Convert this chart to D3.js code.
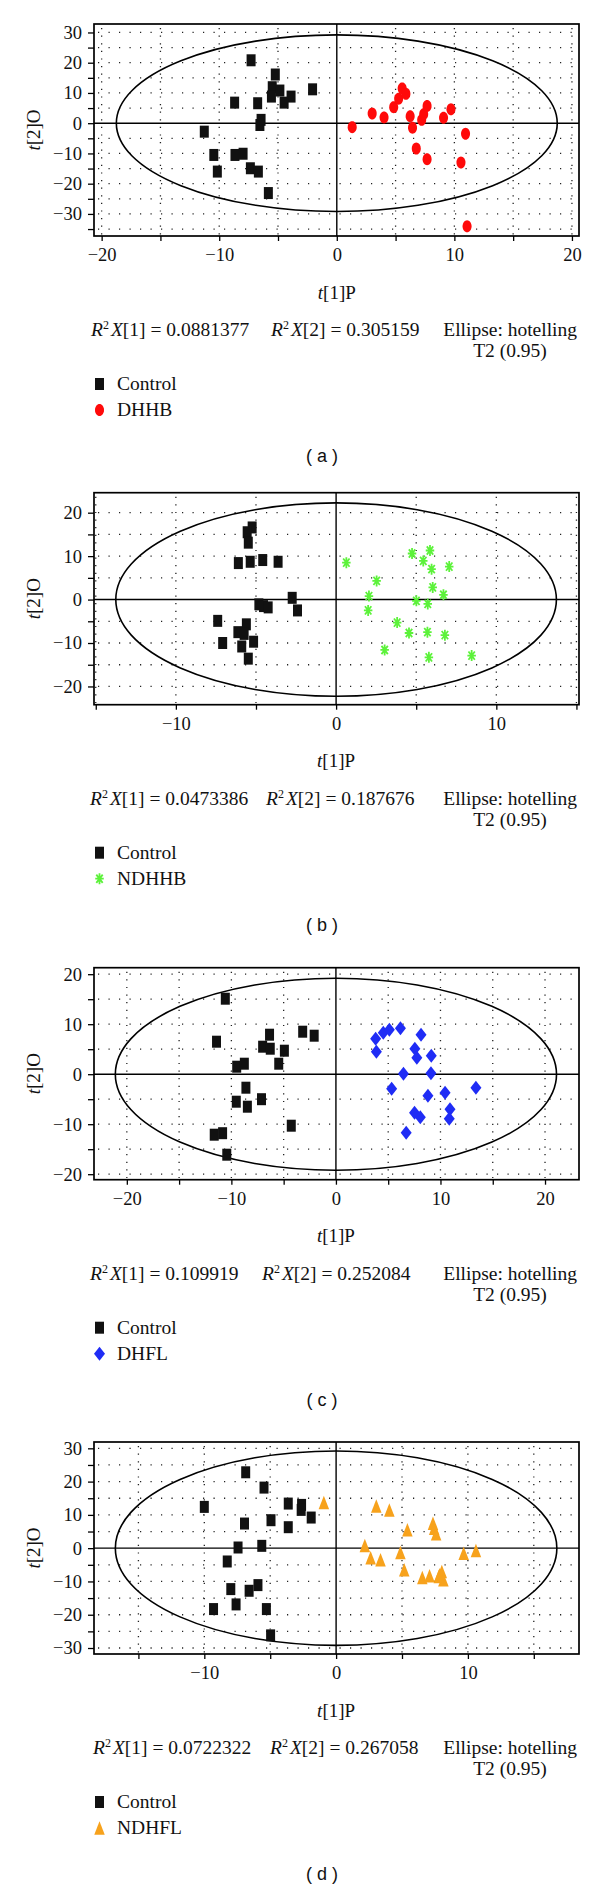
<!DOCTYPE html>
<html><head><meta charset="utf-8">
<script src="https://cdn.jsdelivr.net/npm/d3@7"></script>
<style>body{margin:0;background:#fff} svg{display:block}</style>
</head><body>
<script>
// ---------- DATA ----------
const controlA = [[-7.29,20.8],[-5.23,16.1],[-2.06,11.2],[-5.49,11.9],[-4.84,10.8],[-5.56,8.8],[-3.89,8.8],[-4.48,6.8],[-8.69,6.8],[-6.73,6.6],[-6.44,1.1],[-6.54,-0.6],[-11.27,-2.8],[-10.46,-10.5],[-8.66,-10.5],[-7.97,-10.1],[-10.16,-16.0],[-7.35,-14.9],[-6.67,-16.0],[-5.82,-23.1]];
const dhhb = [[1.31,-1.3],[3.01,3.2],[4.02,1.9],[4.84,5.3],[5.26,8.1],[5.56,11.5],[5.88,9.7],[6.24,2.3],[6.44,-1.5],[7.22,1.1],[7.39,3.0],[7.68,5.7],[6.76,-8.4],[7.68,-11.9],[9.08,1.8],[9.71,4.6],[10.95,-3.5],[10.56,-13.0],[11.08,-34.1]];

const controlB = [[-5.24,16.6],[-5.55,15.5],[-5.48,13.1],[-6.10,8.4],[-5.36,8.7],[-4.58,9.1],[-3.62,8.7],[-2.74,0.4],[-2.41,-2.5],[-4.82,-1.1],[-4.53,-1.5],[-4.24,-1.8],[-7.39,-4.9],[-5.60,-5.7],[-6.13,-7.5],[-5.74,-7.9],[-7.08,-10.0],[-5.15,-9.7],[-5.89,-10.8],[-5.48,-13.6]];
const ndhhb = [[0.64,8.5],[2.53,4.3],[2.05,0.8],[2.00,-2.5],[3.81,-5.3],[3.03,-11.6],[4.74,10.6],[5.86,11.3],[5.44,8.9],[5.96,7.0],[7.06,7.6],[6.03,2.8],[6.70,1.1],[5.01,-0.3],[5.72,-1.0],[4.55,-7.7],[5.70,-7.5],[6.79,-8.2],[5.79,-13.3],[8.46,-12.9]];

const controlC = [[-10.58,15.1],[-11.42,6.5],[-6.35,7.9],[-3.18,8.5],[-2.08,7.7],[-7.01,5.5],[-6.28,5.1],[-4.93,4.7],[-5.47,2.1],[-9.49,1.5],[-8.76,2.1],[-8.61,-2.7],[-9.53,-5.5],[-8.47,-6.5],[-7.12,-5.0],[-4.27,-10.3],[-11.64,-12.1],[-10.84,-11.8],[-10.44,-16.1]];
const dhfl = [[3.80,7.1],[3.87,4.5],[4.53,8.3],[5.11,8.9],[6.17,9.2],[8.14,7.9],[7.55,5.1],[7.74,3.3],[9.12,3.7],[6.46,0.1],[9.09,0.2],[5.33,-2.9],[8.80,-4.3],[10.44,-3.7],[13.39,-2.7],[7.52,-7.7],[8.07,-8.6],[10.91,-7.0],[10.84,-8.9],[6.72,-11.7]];

const controlD = [[-6.86,22.8],[-5.47,18.2],[-10.0,12.4],[-3.63,13.4],[-2.62,13.0],[-2.65,11.5],[-1.89,9.2],[-4.94,8.4],[-6.95,7.4],[-3.63,6.3],[-7.44,0.2],[-5.64,0.7],[-8.26,-4.0],[-7.99,-12.3],[-6.60,-12.8],[-5.93,-11.1],[-7.59,-16.9],[-9.30,-18.3],[-5.29,-18.3],[-4.97,-26.2]];
const ndhfl = [[-0.93,13.7],[3.05,12.7],[4.04,11.5],[5.41,5.5],[7.35,7.5],[7.44,6.0],[7.59,4.3],[2.18,0.8],[2.62,-2.9],[3.37,-3.5],[4.88,-1.3],[5.17,-6.5],[6.54,-8.8],[7.09,-8.3],[7.85,-8.0],[8.02,-7.0],[8.14,-9.5],[9.68,-1.5],[10.61,-0.7],[7.79,-8.5]];

const groupNames = ["DHHB","NDHHB","DHFL","NDHFL"];
const panelLetters = ["a","b","c","d"];
const r2x1 = ["0.0881377","0.0473386","0.109919","0.0722322"];
const r2x2 = ["0.305159","0.187676","0.252084","0.267058"];
const xTickLabels = [[-20,-10,0,10,20],[-10,0,10],[-20,-10,0,10,20],[-10,0,10]];
const yTickLabels = [[30,20,10,0,-10,-20,-30],[20,10,0,-10,-20],[20,10,0,-10,-20],[30,20,10,0,-10,-20,-30]];
const xMinorTicks = [d3.range(-20,21,5),d3.range(-15,16,5),d3.range(-20,21,5),d3.range(-15,16,5)];
const yMinorTicks = [d3.range(-35,31,5),d3.range(-20,21,5),d3.range(-20,21,5),d3.range(-30,31,5)];
const ellipseAxes = [[18.75,29.2],[13.75,22.25],[21.1,19.2],[16.75,29.2]];
const xDomains = [[-20.65,20.6],[-15.11,15.16],[-23.14,23.25],[-18.37,18.43]];
const yDomains = [[-37.3,32.8],[-24.2,24.6],[-21.1,21.3],[-31.8,31.9]];
const controls = [controlA,controlB,controlC,controlD];
const treats = [dhhb,ndhhb,dhfl,ndhfl];
const treatColors = ["#ff0a0a","#5cf23a","#1f2cf5","#f7a21c"];
const treatShapes = ["ellipse","asterisk","diamond","triangle"];

// ---------- LAYOUT ----------
const W = 600, H = 1889;
const frameLeft = 94, frameRight = 579, frameH = 212;
const frameTops = [24, 492.7, 967.7, 1442];
const r2Pos = [[91,271],[90,266],[90,262],[93,270]];

const svg = d3.select("body").append("svg").attr("width",W).attr("height",H);
const serif = "'Liberation Serif','Times New Roman',serif";

// custom d3 symbol types (width x height boxes)
function mkType(shape, w, h){
  return {draw(ctx){
    const hw=w/2, hh=h/2;
    if(shape==="square"){ ctx.moveTo(-hw,-hh); ctx.lineTo(hw,-hh); ctx.lineTo(hw,hh); ctx.lineTo(-hw,hh); ctx.closePath(); }
    else if(shape==="diamond"){ ctx.moveTo(0,-hh); ctx.lineTo(hw,0); ctx.lineTo(0,hh); ctx.lineTo(-hw,0); ctx.closePath(); }
    else if(shape==="triangle"){ ctx.moveTo(0,-hh); ctx.lineTo(hw,hh); ctx.lineTo(-hw,hh); ctx.closePath(); }
    else if(shape==="ellipse"){
      const n=32; for(let i=0;i<=n;i++){const a=i/n*2*Math.PI; const x=hw*Math.cos(a), y=hh*Math.sin(a); if(i===0) ctx.moveTo(x,y); else ctx.lineTo(x,y);} ctx.closePath();
    }
    else if(shape==="asterisk"){
      ctx.moveTo(0,-hh); ctx.lineTo(0,hh);
      ctx.moveTo(-hw,0); ctx.lineTo(hw,0);
      ctx.moveTo(-hw*0.75,-hh*0.75); ctx.lineTo(hw*0.75,hh*0.75);
      ctx.moveTo(-hw*0.75,hh*0.75); ctx.lineTo(hw*0.75,-hh*0.75);
    }
  }};
}
const sizes = {square:[9,12], ellipse:[9,12], diamond:[11,14], triangle:[10.5,13.5], asterisk:[8.5,11]};
function symPath(shape){ const s=sizes[shape]; return d3.symbol().type(mkType(shape,s[0],s[1]))(); }
function styleMarker(sel, shape, color){
  if(shape==="asterisk") sel.attr("fill","none").attr("stroke",color).attr("stroke-width",1.8);
  else sel.attr("fill",color);
}

for(let p=0;p<4;p++){
  const top = frameTops[p], bottom = top+frameH;
  const x = d3.scaleLinear().domain(xDomains[p]).range([frameLeft, frameRight]);
  const y = d3.scaleLinear().domain(yDomains[p]).range([bottom, top]);
  const g = svg.append("g");

  // dotted grid
  g.selectAll(".gy").data(yMinorTicks[p].filter(v=>v!==0)).join("line")
    .attr("x1",frameLeft+4).attr("x2",frameRight).attr("y1",d=>y(d)).attr("y2",d=>y(d))
    .attr("stroke","#222").attr("stroke-width",1.3).attr("stroke-dasharray","1.2,9.3");
  g.selectAll(".gx").data(xMinorTicks[p].filter(v=>v!==0)).join("line")
    .attr("y1",top+4).attr("y2",bottom).attr("x1",d=>x(d)).attr("x2",d=>x(d))
    .attr("stroke","#222").attr("stroke-width",1.3).attr("stroke-dasharray","1.2,6.4");

  // zero axes
  g.append("line").attr("x1",frameLeft).attr("x2",frameRight).attr("y1",y(0)).attr("y2",y(0)).attr("stroke","#000").attr("stroke-width",1.4);
  g.append("line").attr("y1",top).attr("y2",bottom).attr("x1",x(0)).attr("x2",x(0)).attr("stroke","#000").attr("stroke-width",1.4);

  // ellipse
  const ea = ellipseAxes[p];
  g.append("ellipse").attr("cx",x(0)).attr("cy",y(0))
    .attr("rx",x(ea[0])-x(0)).attr("ry",y(0)-y(ea[1]))
    .attr("fill","none").attr("stroke","#000").attr("stroke-width",1.6);

  // markers
  g.selectAll(".c").data(controls[p]).join("path")
    .attr("d",symPath("square")).attr("transform",d=>`translate(${x(d[0])},${y(d[1])})`)
    .attr("fill","#111");
  const tm = g.selectAll(".t").data(treats[p]).join("path")
    .attr("d",symPath(treatShapes[p])).attr("transform",d=>`translate(${x(d[0])},${y(d[1])})`);
  styleMarker(tm, treatShapes[p], treatColors[p]);

  // frame
  g.append("rect").attr("x",frameLeft).attr("y",top).attr("width",frameRight-frameLeft).attr("height",frameH)
    .attr("fill","none").attr("stroke","#000").attr("stroke-width",1.7);

  // axes ticks
  const fmt = d3.format("");
  const xa = d3.axisBottom(x).tickValues(xMinorTicks[p]).tickSize(5).tickFormat(d=>xTickLabels[p].includes(d)?fmt(d):"");
  const xg = g.append("g").attr("transform",`translate(0,${bottom})`).call(xa);
  const ya = d3.axisLeft(y).tickValues(yMinorTicks[p]).tickSize(6).tickFormat(d=>yTickLabels[p].includes(d)?fmt(d):"");
  const yg = g.append("g").attr("transform",`translate(${frameLeft},0)`).call(ya);
  [xg,yg].forEach(a=>{ a.select(".domain").remove();
    a.selectAll(".tick line").attr("stroke","#000").attr("stroke-width",1.3);
    a.selectAll("text").attr("font-family",serif).attr("font-size",18.5).attr("fill","#111"); });
  xg.selectAll("text").attr("y",12);
  yg.selectAll("text").attr("x",-12);

  // axis titles
  const xt = g.append("text").attr("x",x(0)).attr("y",bottom+62.5).attr("text-anchor","middle")
    .attr("font-family",serif).attr("font-size",19).attr("fill","#111");
  xt.append("tspan").attr("font-style","italic").text("t");
  xt.append("tspan").text("[1]P");
  const yt = g.append("text").attr("transform",`translate(40,${(top+bottom)/2}) rotate(-90)`).attr("text-anchor","middle")
    .attr("font-family",serif).attr("font-size",19).attr("fill","#111");
  yt.append("tspan").attr("font-style","italic").text("t");
  yt.append("tspan").text("[2]O");

  // R2 line
  const fs = 19.5;
  [[r2Pos[p][0],"1",r2x1[p]],[r2Pos[p][1],"2",r2x2[p]]].forEach(([tx,k,val])=>{
    const t = g.append("text").attr("x",tx).attr("y",bottom+100).attr("font-family",serif).attr("font-size",fs).attr("fill","#111");
    t.append("tspan").attr("font-style","italic").text("R");
    t.append("tspan").attr("font-size",12).attr("dy",-7).text("2");
    t.append("tspan").attr("font-style","italic").attr("dy",7).attr("dx",2).text("X");
    t.append("tspan").text(`[${k}] = ${val}`);
  });
  g.append("text").attr("x",577).attr("y",bottom+100).attr("text-anchor","end").attr("font-family",serif).attr("font-size",fs).attr("fill","#111").text("Ellipse: hotelling");
  g.append("text").attr("x",510).attr("y",bottom+121).attr("text-anchor","middle").attr("font-family",serif).attr("font-size",fs).attr("fill","#111").text("T2 (0.95)");

  // legend
  const legY = [bottom+154, bottom+180];
  g.append("path").attr("d",symPath("square")).attr("transform",`translate(99.5,${legY[0]-6})`).attr("fill","#111");
  const lm = g.append("path").attr("d",symPath(treatShapes[p])).attr("transform",`translate(99.5,${legY[1]-6})`);
  styleMarker(lm, treatShapes[p], treatColors[p]);
  g.append("text").attr("x",117).attr("y",legY[0]).attr("font-family",serif).attr("font-size",fs).attr("fill","#111").text("Control");
  g.append("text").attr("x",117).attr("y",legY[1]).attr("font-family",serif).attr("font-size",fs).attr("fill","#111").text(groupNames[p]);

  // panel letter
  g.append("text").attr("x",322).attr("y",bottom+226).attr("text-anchor","middle")
    .attr("font-family","'Liberation Sans',Arial,sans-serif").attr("font-size",18).attr("fill","#111")
    .attr("xml:space","preserve").text(`( ${panelLetters[p]} )`);
}
</script>
</body></html>
